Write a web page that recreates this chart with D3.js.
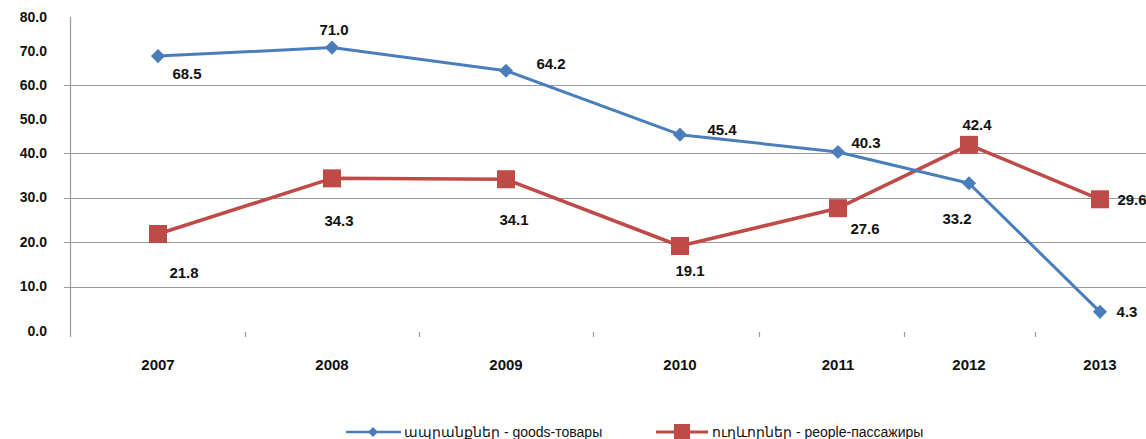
<!DOCTYPE html>
<html><head><meta charset="utf-8">
<script src="https://cdn.jsdelivr.net/npm/d3@7"></script>
<style>
body{margin:0;background:#fff;}
svg{display:block;}
</style></head>
<body>
<svg id="chart" width="1146" height="439"></svg>
<script>
const years = [2007, 2008, 2009, 2010, 2011, 2012, 2013];
const goodsValues = [68.5, 71.0, 64.2, 45.4, 40.3, 33.2, 4.3];
const peopleValues = [21.8, 34.3, 34.1, 19.1, 27.6, 42.4, 29.6];
const yTicks = [0, 10, 20, 30, 40, 50, 60, 70, 80];
const seriesNames = ["ապրանքներ - goods-товары", "ուղևորներ - people-пассажиры"];

// label placement (dx, dy in px relative to marker)
const goodsLabelOffsets = [[29,18],[2,-18],[45,-7],[42,-5],[28,-9],[-12,35],[27,0]];
const peopleLabelOffsets = [[26,39],[7,42],[8,40],[10,25],[27,21],[8,-20],[32,0]];

const svg = d3.select("#chart");
// the picture has a non-uniform stretch; piecewise scales reproduce it
const x = d3.scaleLinear().domain([2007, 2010, 2011, 2013]).range([158, 680, 838, 1100]);
const y = d3.scaleLinear().domain([0, 40, 80]).range([331, 153, 17]);
const axisX = 70, rightEdge = 1146;

const grid = svg.append("g");
grid.selectAll("line").data(yTicks.filter(t => t > 0 && t !== 50 && t !== 70 && t !== 80)).join("line")
  .attr("x1", axisX - 6).attr("x2", rightEdge)
  .attr("y1", d => Math.round(y(d)) + 0.5).attr("y2", d => Math.round(y(d)) + 0.5)
  .attr("stroke", "#9a9a9a").attr("stroke-width", 1.2);

// y axis line
svg.append("line").attr("x1", axisX + 0.5).attr("x2", axisX + 0.5)
  .attr("y1", y(80)).attr("y2", y(0) + 6).attr("stroke", "#9a9a9a").attr("stroke-width", 1.2);

// y tick labels
svg.append("g").selectAll("text").data(yTicks).join("text")
  .attr("x", 47).attr("y", d => y(d)).attr("dy", "0.35em")
  .attr("text-anchor", "end")
  .attr("font-family", "Liberation Sans, Arial, sans-serif").attr("font-size", 14).attr("font-weight", "bold")
  .attr("fill", "#111")
  .text(d => d.toFixed(1));

// x ticks at category boundaries
const bounds = years.slice(1).map(yr => yr - 0.5);
svg.append("g").selectAll("line").data(bounds).join("line")
  .attr("x1", d => Math.round(x(d)) + 0.5).attr("x2", d => Math.round(x(d)) + 0.5)
  .attr("y1", y(0) + 1).attr("y2", y(0) + 6)
  .attr("stroke", "#9a9a9a").attr("stroke-width", 1.2);

// x labels
svg.append("g").selectAll("text").data(years).join("text")
  .attr("x", d => x(d)).attr("y", 370)
  .attr("text-anchor", "middle")
  .attr("font-family", "Liberation Sans Narrow, Liberation Sans, Arial, sans-serif").attr("font-size", 15).attr("font-weight", "bold")
  .attr("fill", "#111")
  .text(d => d);

const line = d3.line().x(d => x(d[0])).y(d => y(d[1]));
const goods = years.map((yr, i) => [yr, goodsValues[i]]);
const people = years.map((yr, i) => [yr, peopleValues[i]]);

const blue = "#4a7ebb", red = "#be4b48";

// red series
svg.append("path").datum(people).attr("d", line).attr("fill", "none")
  .attr("stroke", red).attr("stroke-width", 3.5).attr("stroke-linejoin", "round");
svg.append("g").selectAll("rect").data(people).join("rect")
  .attr("x", d => x(d[0]) - 9).attr("y", d => y(d[1]) - 9)
  .attr("width", 18).attr("height", 18).attr("fill", red);

// blue series
svg.append("path").datum(goods).attr("d", line).attr("fill", "none")
  .attr("stroke", blue).attr("stroke-width", 3).attr("stroke-linejoin", "round");
svg.append("g").selectAll("path").data(goods).join("path")
  .attr("d", d3.symbol(d3.symbolSquare, 100))
  .attr("transform", d => `translate(${x(d[0])},${y(d[1])}) rotate(45)`)
  .attr("fill", blue);

// data labels
function labels(data, offs) {
  svg.append("g").selectAll("text").data(data).join("text")
    .attr("x", (d, i) => x(d[0]) + offs[i][0])
    .attr("y", (d, i) => y(d[1]) + offs[i][1])
    .attr("dy", "0.35em").attr("text-anchor", "middle")
    .attr("font-family", "Liberation Sans Narrow, Liberation Sans, Arial, sans-serif")
    .attr("font-size", 15).attr("font-weight", "bold").attr("fill", "#111")
    .text(d => d[1].toFixed(1));
}
labels(goods, goodsLabelOffsets);
labels(people, peopleLabelOffsets);

// legend
const legend = svg.append("g").attr("transform", "translate(0,432)");
const lg1 = legend.append("g").attr("transform", "translate(346,0)");
lg1.append("line").attr("x1", 0).attr("x2", 55).attr("stroke", blue).attr("stroke-width", 2.5);
lg1.append("path").attr("d", d3.symbol(d3.symbolSquare, 50)).attr("transform", "translate(27,0) rotate(45)").attr("fill", blue);
lg1.append("text").attr("x", 58).attr("dy", "0.35em")
  .attr("font-family", "Liberation Sans Narrow, Liberation Sans, Arial, sans-serif").attr("font-size", 14).attr("fill", "#111")
  .text(seriesNames[0]);
const lg2 = legend.append("g").attr("transform", "translate(656,0)");
lg2.append("line").attr("x1", 0).attr("x2", 52).attr("stroke", red).attr("stroke-width", 3);
lg2.append("rect").attr("x", 18).attr("y", -8).attr("width", 16).attr("height", 16).attr("fill", red);
lg2.append("text").attr("x", 56).attr("dy", "0.35em")
  .attr("font-family", "Liberation Sans Narrow, Liberation Sans, Arial, sans-serif").attr("font-size", 14).attr("fill", "#111")
  .text(seriesNames[1]);
</script>
</body></html>
